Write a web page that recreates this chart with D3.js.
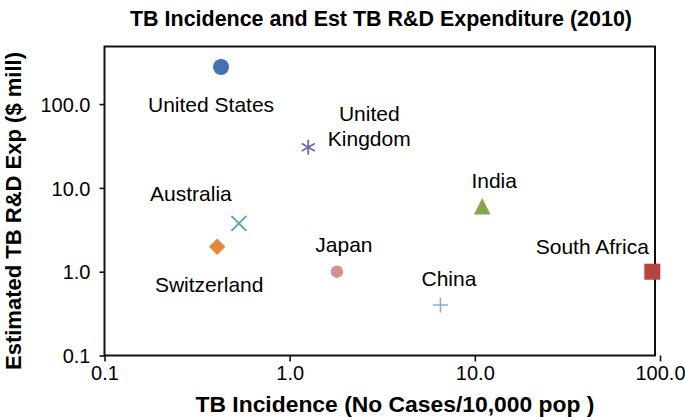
<!DOCTYPE html>
<html>
<head>
<meta charset="utf-8">
<script src="https://cdn.jsdelivr.net/npm/d3@7"></script>
<style>
  html, body { margin: 0; padding: 0; background: #fff; }
  svg { display: block; }
  text { font-family: "Liberation Sans", Arial, Helvetica, sans-serif; fill: #000; }
</style>
</head>
<body>
<svg id="chart" width="685" height="420"></svg>
<script>
// ---- data ----
const countries = ["United States", "United Kingdom", "Australia", "Switzerland", "Japan", "India", "South Africa", "China"];
const incidence = [0.426, 1.26, 0.532, 0.406, 1.80, 10.96, 90.9, 6.52];
const expenditure = [277, 30.5, 3.78, 1.99, 1.0, 6.03, 1.0, 0.40];
const xTicks = [0.1, 1, 10, 100];
const yTicks = [0.1, 1, 10, 100];
const xTickLabels = ["0.1", "1.0", "10.0", "100.0"];
const yTickLabels = ["0.1", "1.0", "10.0", "100.0"];

// ---- styling / layout (not data) ----
const markerStyle = {
  "United States": {shape: "circle", size: 16, color: "#4272b3"},
  "United Kingdom": {shape: "asterisk", size: 15, color: "#7d64a6"},
  "Australia": {shape: "x", size: 15, color: "#4aa3bd"},
  "Switzerland": {shape: "diamond", size: 16.5, color: "#e6873a"},
  "Japan": {shape: "circle", size: 12.5, color: "#d48f92"},
  "India": {shape: "triangle", size: 16.5, color: "#86a64a"},
  "South Africa": {shape: "square", size: 16, color: "#b8433f"},
  "China": {shape: "plus", size: 15, color: "#8aa9d8"}
};
const labelLayout = {
  "United States": {dx: -10, dy: 45, lines: ["United States"]},
  "United Kingdom": {dx: 61, dy: -26, lines: ["United", "Kingdom"]},
  "Australia": {dx: -48, dy: -22.5, lines: ["Australia"]},
  "Switzerland": {dx: -8, dy: 45, lines: ["Switzerland"]},
  "Japan": {dx: 7, dy: -20, lines: ["Japan"]},
  "India": {dx: 12, dy: -18, lines: ["India"]},
  "South Africa": {dx: -60, dy: -18, lines: ["South Africa"]},
  "China": {dx: 8.5, dy: -19, lines: ["China"]}
};

const svg = d3.select("#chart");
const plot = {left: 104.5, right: 655, top: 46.5, bottom: 355.5};

const x = d3.scaleLog().domain([0.1, 100]).range([104.5, 660]);
const y = d3.scaleLog().domain([0.1, 1000]).range([355.5, 20.3]);

// frame
svg.append("rect")
  .attr("x", plot.left).attr("y", plot.top)
  .attr("width", plot.right - plot.left).attr("height", plot.bottom - plot.top)
  .attr("fill", "none").attr("stroke", "#111").attr("stroke-width", 2);

// axes
const xAxis = d3.axisBottom(x).tickValues(xTicks).tickSize(6).tickPadding(6)
  .tickFormat((d, i) => xTickLabels[i]);
const gx = svg.append("g").attr("transform", `translate(0,${plot.bottom})`).call(xAxis);
gx.select(".domain").remove();
gx.selectAll(".tick line").attr("stroke", "#111").attr("stroke-width", 1.6);
gx.selectAll(".tick text").attr("font-size", 20).attr("fill", "#000")
  .style("font-family", '"Liberation Sans", Arial, sans-serif').attr("dy", "0.78em").attr("y", 9);

const yAxis = d3.axisLeft(y).tickValues(yTicks).tickSize(5).tickPadding(9)
  .tickFormat((d, i) => yTickLabels[i]);
const gy = svg.append("g").attr("transform", `translate(${plot.left},0)`).call(yAxis);
gy.select(".domain").remove();
gy.selectAll(".tick line").attr("stroke", "#111").attr("stroke-width", 1.6);
gy.selectAll(".tick text").attr("font-size", 20).attr("fill", "#000")
  .style("font-family", '"Liberation Sans", Arial, sans-serif').attr("dy", "0.36em");

// title
svg.append("text").attr("x", 381).attr("y", 26)
  .attr("text-anchor", "middle").attr("font-weight", "bold").attr("font-size", 22.5)
  .attr("textLength", 502).attr("lengthAdjust", "spacingAndGlyphs")
  .text("TB Incidence and Est TB R&D Expenditure (2010)");

// axis titles
svg.append("text").attr("x", 395).attr("y", 412)
  .attr("text-anchor", "middle").attr("font-weight", "bold").attr("font-size", 22)
  .attr("textLength", 399).attr("lengthAdjust", "spacingAndGlyphs")
  .text("TB Incidence (No Cases/10,000 pop )");
svg.append("text").attr("transform", "translate(21,211) rotate(-90)")
  .attr("text-anchor", "middle").attr("font-weight", "bold").attr("font-size", 22)
  .attr("textLength", 318).attr("lengthAdjust", "spacingAndGlyphs")
  .text("Estimated TB R&D Exp ($ mill)");

// markers
const pts = countries.map((c, i) => ({name: c, x: incidence[i], y: expenditure[i]}));
const g = svg.append("g");
pts.forEach(p => {
  const st = markerStyle[p.name];
  const cx = x(p.x), cy = y(p.y), s = st.size, h = s / 2;
  if (st.shape === "circle") {
    g.append("circle").attr("cx", cx).attr("cy", cy).attr("r", h).attr("fill", st.color);
  } else if (st.shape === "square") {
    g.append("rect").attr("x", cx - h).attr("y", cy - h).attr("width", s).attr("height", s).attr("fill", st.color);
  } else if (st.shape === "diamond") {
    g.append("path").attr("d", `M${cx},${cy - h}L${cx + h},${cy}L${cx},${cy + h}L${cx - h},${cy}Z`).attr("fill", st.color);
  } else if (st.shape === "triangle") {
    g.append("path").attr("d", `M${cx},${cy - h}L${cx + h},${cy + h}L${cx - h},${cy + h}Z`).attr("fill", st.color);
  } else if (st.shape === "x") {
    g.append("path").attr("d", `M${cx - h},${cy - h}L${cx + h},${cy + h}M${cx + h},${cy - h}L${cx - h},${cy + h}`)
      .attr("stroke", st.color).attr("stroke-width", 1.8).attr("fill", "none");
  } else if (st.shape === "plus") {
    g.append("path").attr("d", `M${cx - h},${cy}L${cx + h},${cy}M${cx},${cy - h}L${cx},${cy + h}`)
      .attr("stroke", st.color).attr("stroke-width", 1.5).attr("fill", "none");
  } else if (st.shape === "asterisk") {
    const a = h * 0.87;
    g.append("path").attr("d", `M${cx},${cy - h}L${cx},${cy + h}M${cx - a},${cy - h / 2}L${cx + a},${cy + h / 2}M${cx - a},${cy + h / 2}L${cx + a},${cy - h / 2}`)
      .attr("stroke", st.color).attr("stroke-width", 1.8).attr("fill", "none");
  }
  const lb = labelLayout[p.name];
  const t = g.append("text").attr("text-anchor", "middle").attr("font-size", 21);
  lb.lines.forEach((ln, k) => {
    t.append("tspan").attr("x", cx + lb.dx).attr("y", cy + lb.dy + k * 25).text(ln);
  });
});
</script>
</body>
</html>
